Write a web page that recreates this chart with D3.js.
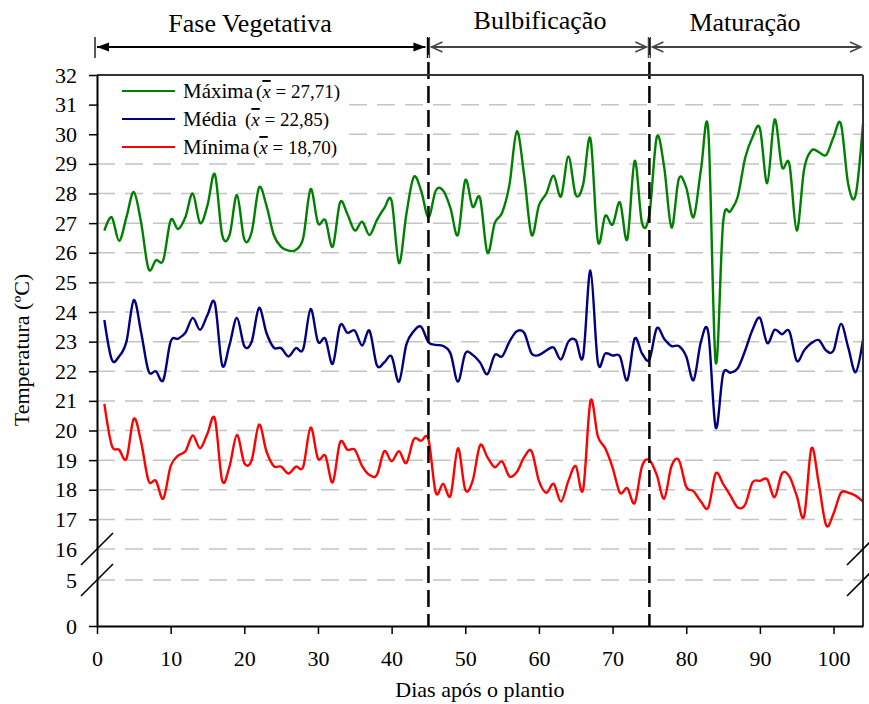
<!DOCTYPE html>
<html>
<head>
<meta charset="utf-8">
<script src="https://cdn.jsdelivr.net/npm/d3@7"></script>
<style>
  body { margin: 0; background: #fff; }
  text { font-family: "Liberation Serif", "Times New Roman", serif; fill: #000; }
</style>
</head>
<body>
<svg id="chart" width="869" height="704"></svg>
<script>
// Daily air temperature (°C), days 1–104 after planting
const maxima = [
  26.75, 27.2, 26.4, 27.2, 28.05, 27.0, 25.45, 25.75, 25.75, 27.1,
  26.8, 27.2, 28.0, 27.0, 27.6, 28.65, 26.6, 26.6, 27.95, 26.45,
  26.7, 28.2, 27.6, 26.6, 26.2, 26.07, 26.1, 26.5, 28.15, 27.0,
  27.1, 26.2, 27.7, 27.3, 26.75, 27.05, 26.6, 27.1, 27.5, 27.75,
  25.65, 27.3, 28.55, 28.1, 27.2, 28.1, 28.1, 27.5, 26.6, 28.45,
  27.55, 27.85, 26.0, 27.0, 27.35, 28.3, 30.1, 28.6, 26.6, 27.6,
  28.0, 28.6, 27.9, 29.25, 27.95, 28.3, 29.85, 26.4, 27.25, 26.95,
  27.7, 26.45, 29.1, 27.0, 27.3, 29.9, 28.9, 26.85, 28.5, 28.2,
  27.2, 28.8, 30.1, 22.3, 27.0, 27.4, 27.9, 29.2, 29.9, 30.2,
  28.35, 30.5, 28.9, 29.0, 26.75, 28.8, 29.45, 29.4, 29.3, 29.9,
  30.35, 28.3, 27.95, 30.35
];
const media = [
  23.73, 22.4, 22.5, 23.0, 24.4, 23.3, 22.0, 22.0, 21.7, 23.0,
  23.1, 23.3, 23.8, 23.4, 23.9, 24.3, 22.2, 22.9, 23.8, 22.85,
  23.0, 24.14, 23.3, 22.8, 22.78, 22.5, 22.78, 22.75, 24.1, 23.0,
  23.1, 22.25, 23.55, 23.3, 23.37, 22.87, 23.37, 22.2, 22.3, 22.5,
  21.65, 22.9, 23.35, 23.5, 22.98, 22.89, 22.85, 22.6, 21.65, 22.6,
  22.55, 22.3, 21.9, 22.55, 22.5, 23.0, 23.35, 23.3, 22.6, 22.55,
  22.7, 22.8, 22.4, 23.0, 23.05, 22.5, 25.4, 22.3, 22.6, 22.53,
  22.5, 21.7, 23.1, 22.6, 22.4, 23.45, 23.1, 22.85, 22.85, 22.5,
  21.7, 23.0, 23.3, 20.1, 21.9, 21.95, 22.1, 22.7, 23.4, 23.8,
  22.95, 23.4, 23.25, 23.35, 22.35, 22.7, 22.95, 23.05, 22.7, 22.7,
  23.6, 22.8, 21.97, 23.06
];
const minima = [
  20.9, 19.5, 19.35, 19.05, 20.4, 19.6, 18.3, 18.3, 17.7, 18.8,
  19.15, 19.3, 19.83, 19.4, 19.9, 20.4, 18.3, 18.8, 19.85, 18.9,
  19.0, 20.2, 19.3, 18.8, 18.78, 18.55, 18.78, 18.78, 20.1, 19.05,
  19.15, 18.25, 19.6, 19.35, 19.35, 18.8, 18.5, 18.5, 19.3, 18.96,
  19.3, 18.9, 19.7, 19.65, 19.7, 17.9, 18.2, 17.8, 19.4, 18.0,
  18.3, 19.5, 19.1, 18.76, 18.95, 18.45, 18.6, 19.1, 19.3, 18.3,
  17.9, 18.2, 17.6, 18.3, 18.8, 18.0, 21.0, 19.8, 19.4, 18.75,
  17.9, 18.05, 17.55, 18.8, 19.0, 18.5, 17.7, 18.8, 19.0, 18.1,
  17.95, 17.6, 17.4, 18.55, 18.2, 17.8, 17.4, 17.5, 18.25, 18.3,
  18.35, 17.75, 18.55, 18.45, 17.8, 17.1, 19.4, 18.2, 16.8, 17.2,
  17.9, 17.9, 17.8, 17.6
];
const days = d3.range(1, maxima.length + 1);

const seriesNames = ["Máxima", "Média", "Mínima"];
const seriesMeans = ["27,71", "22,85", "18,70"];
const seriesColors = ["#008000", "#000080", "#ff0000"];

const xTicks = [0, 10, 20, 30, 40, 50, 60, 70, 80, 90, 100];
const yTicks = [0, 5, 16, 17, 18, 19, 20, 21, 22, 23, 24, 25, 26, 27, 28, 29, 30, 31, 32];
const gridValues = [5, 16, 17, 18, 19, 20, 21, 22, 23, 24, 25, 26, 27, 28, 29, 30, 31];
const breakValues = [5, 16];

const phaseNames = ["Fase Vegetativa", "Bulbificação", "Maturação"];
const phaseBounds = [0, 45, 75, 104];

const svg = d3.select("#chart");

const x = d3.scaleLinear().domain([0, 104]).range([97, 863]);
// broken axis: 0–5 compressed below, 16–32 above
const y = d3.scaleLinear().domain([0, 5, 16, 32]).range([626, 580, 549, 75]);

// horizontal grid
svg.append("g").selectAll("line").data(gridValues).join("line")
  .attr("x1", x(0)).attr("x2", x(104))
  .attr("y1", d => y(d)).attr("y2", d => y(d))
  .attr("stroke", "#c4c4c4").attr("stroke-width", 1.5)
  .attr("stroke-dasharray", "18,10");

// temperature curves
const series = [maxima, media, minima];
const line = d3.line()
  .x(d => x(d[0]))
  .y(d => y(d[1]))
  .curve(d3.curveCatmullRom.alpha(0));

svg.append("g").selectAll("path").data(series).join("path")
  .attr("d", s => line(days.map((d, i) => [d, s[i]])))
  .attr("fill", "none")
  .attr("stroke", (s, i) => seriesColors[i])
  .attr("stroke-width", 2.4)
  .attr("stroke-linejoin", "round");

// phase boundaries
svg.append("g").selectAll("line").data(phaseBounds.slice(1, 3)).join("line")
  .attr("x1", d => x(d)).attr("x2", d => x(d))
  .attr("y1", 38).attr("y2", y(0))
  .attr("stroke", "#000").attr("stroke-width", 2.5)
  .attr("stroke-dasharray", "17,7");

// frame top and right
svg.append("line").attr("x1", x(0)).attr("x2", x(104)).attr("y1", y(32)).attr("y2", y(32))
  .attr("stroke", "#333").attr("stroke-width", 2);
svg.append("line").attr("x1", x(104)).attr("x2", x(104)).attr("y1", y(32)).attr("y2", y(0))
  .attr("stroke", "#333").attr("stroke-width", 2);

// x axis
const gx = svg.append("g").attr("transform", `translate(0,${y(0)})`)
  .call(d3.axisBottom(x).tickValues(xTicks).tickSize(8).tickSizeOuter(0).tickPadding(16));
gx.select(".domain").attr("stroke", "#000").attr("stroke-width", 2);
gx.selectAll(".tick line").attr("stroke", "#000").attr("stroke-width", 1.5);
gx.selectAll(".tick text").style("font-size", "22px").style("font-family", "Liberation Serif");

// y axis
const gy = svg.append("g").attr("transform", `translate(${x(0)},0)`)
  .call(d3.axisLeft(y).tickValues(yTicks).tickSize(8).tickSizeOuter(0).tickPadding(12));
gy.select(".domain").attr("stroke", "#000").attr("stroke-width", 2);
gy.selectAll(".tick line").attr("stroke", "#000").attr("stroke-width", 1.5)
  .attr("display", d => breakValues.includes(d) ? "none" : null);
gy.selectAll(".tick text").style("font-size", "22px").style("font-family", "Liberation Serif");

// break marks on both vertical edges
const breakMarks = [];
[x(0), x(104)].forEach(cx => breakValues.forEach(v => breakMarks.push([cx, y(v)])));
svg.append("g").selectAll("line").data(breakMarks).join("line")
  .attr("x1", d => d[0] - 16).attr("y1", d => d[1] + 16)
  .attr("x2", d => d[0] + 16).attr("y2", d => d[1] - 16)
  .attr("stroke", "#000").attr("stroke-width", 1.6);

// axis titles
svg.append("text").attr("x", (x(0) + x(104)) / 2).attr("y", 697)
  .attr("text-anchor", "middle").style("font-size", "22px")
  .text("Dias após o plantio");
svg.append("text").attr("transform", "translate(29,350) rotate(-90)")
  .attr("text-anchor", "middle").style("font-size", "22px")
  .text("Temperatura (ºC)");

// phase arrows and labels
const arrowY = 47;
const phaseLabelX = [250, 540, 745];
const phaseLabelY = [32, 29, 31];
phaseNames.forEach((name, i) => {
  const a = x(phaseBounds[i]), b = x(phaseBounds[i + 1]);
  const g = svg.append("g");
  const first = i === 0;
  const col = first ? "#000" : "#444";
  const x1 = a + (first ? 0 : 3), x2 = b - (i === 2 ? 2 : 3);
  // end bars
  g.append("line").attr("x1", x1 - 2).attr("x2", x1 - 2).attr("y1", 37).attr("y2", 58)
    .attr("stroke", col).attr("stroke-width", 1.3);
  if (i < 2) {
    g.append("line").attr("x1", x2 + 2).attr("x2", x2 + 2).attr("y1", 37).attr("y2", 58)
      .attr("stroke", col).attr("stroke-width", 1.3);
  }
  g.append("line").attr("x1", x1).attr("x2", x2).attr("y1", arrowY).attr("y2", arrowY)
    .attr("stroke", col).attr("stroke-width", first ? 2 : 1.8);
  if (first) {
    g.append("path").attr("d", `M${x1},${arrowY} l12,-4.5 l0,9 z`).attr("fill", col);
    g.append("path").attr("d", `M${x2},${arrowY} l-12,-4.5 l0,9 z`).attr("fill", col);
  } else {
    g.append("path").attr("d", `M${x1 + 11},${arrowY - 5} L${x1},${arrowY} L${x1 + 11},${arrowY + 5}`)
      .attr("fill", "none").attr("stroke", col).attr("stroke-width", 1.5);
    g.append("path").attr("d", `M${x2 - 11},${arrowY - 5} L${x2},${arrowY} L${x2 - 11},${arrowY + 5}`)
      .attr("fill", "none").attr("stroke", col).attr("stroke-width", 1.5);
  }
  svg.append("text").attr("x", phaseLabelX[i]).attr("y", phaseLabelY[i])
    .attr("text-anchor", "middle").style("font-size", "26px").text(name);
});

// legend
const legend = svg.append("g");
legend.append("rect").attr("x", 99).attr("y", 77).attr("width", 240).attr("height", 80).attr("fill", "#fff");
const legendMeanX = [256, 245, 253];
seriesNames.forEach((name, i) => {
  const ly = 91 + i * 28;
  legend.append("line").attr("x1", 122).attr("x2", 175).attr("y1", ly).attr("y2", ly)
    .attr("stroke", seriesColors[i]).attr("stroke-width", 2);
  legend.append("text").attr("x", 183).attr("y", ly + 7).style("font-size", "21px").text(name);
  const t = legend.append("text").attr("x", legendMeanX[i]).attr("y", ly + 7).style("font-size", "19px");
  t.append("tspan").text("(");
  t.append("tspan").style("font-style", "italic").style("text-decoration", "overline").text("x");
  t.append("tspan").text(" = " + seriesMeans[i] + ")");
});
</script>
</body>
</html>
